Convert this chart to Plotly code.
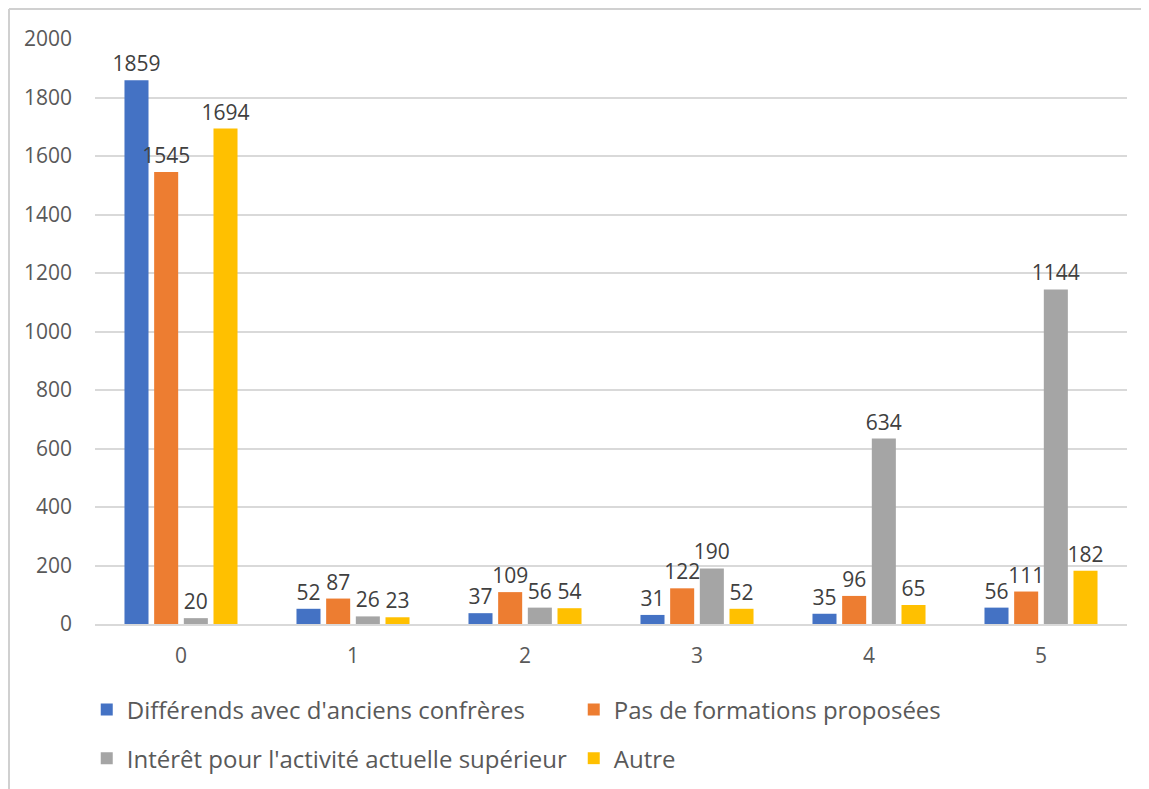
import plotly.graph_objects as go

categories = ["0", "1", "2", "3", "4", "5"]
series_names = [
    "Différends avec d'anciens confrères",
    "Pas de formations proposées",
    "Intérêt pour l'activité actuelle supérieur",
    "Autre",
]
differends = [1859, 52, 37, 31, 35, 56]
pas_formations = [1545, 87, 109, 122, 96, 111]
interet = [20, 26, 56, 190, 634, 1144]
autre = [1694, 23, 54, 52, 65, 182]
y_ticks = [0, 200, 400, 600, 800, 1000, 1200, 1400, 1600, 1800, 2000]

colors = ["#4472C4", "#ED7D31", "#A5A5A5", "#FFC000"]
legend_ids = ["legend", "legend", "legend2", "legend2"]
font_family = "Open Sans, Liberation Sans, sans-serif"

fig = go.Figure()
all_values = [differends, pas_formations, interet, autre]
for name, values, color, leg in zip(series_names, all_values, colors, legend_ids):
    fig.add_trace(go.Bar(
        x=categories,
        y=values,
        name=name,
        legend=leg,
        marker=dict(color=color, line=dict(width=0)),
        text=[str(v) for v in values],
        textposition="outside",
        constraintext="none",
        textfont=dict(size=21, color="#404040", family=font_family),
        cliponaxis=False,
    ))

# cadre du graphique : seuls les bords haut et gauche sont visibles
left_x = (1 - 87) / 1032
top_y = (616 - 1) / 585
fig.add_shape(type="line", xref="paper", yref="paper",
              x0=left_x, x1=1.2, y0=top_y, y1=top_y,
              line=dict(color="#D0D0D0", width=2))
fig.add_shape(type="line", xref="paper", yref="paper",
              x0=left_x, x1=left_x, y0=top_y, y1=-0.4,
              line=dict(color="#D0D0D0", width=2))

legend_style = dict(
    orientation="h",
    x=-0.008,
    xanchor="left",
    yanchor="middle",
    entrywidth=442,
    itemwidth=30,
    font=dict(size=24, color="#595959", family=font_family),
)

fig.update_layout(
    width=1149,
    height=789,
    margin=dict(l=87, r=30, t=31, b=173),
    paper_bgcolor="white",
    plot_bgcolor="white",
    barmode="group",
    bargap=0.31,
    bargroupgap=0.19,
    font=dict(family=font_family, size=21, color="#595959"),
    showlegend=True,
    legend=dict(legend_style, y=-0.147),
    legend2=dict(legend_style, y=-0.23),
    xaxis=dict(
        showgrid=False,
        showline=True,
        linecolor="#D9D9D9",
        linewidth=2,
        ticks="",
        ticklabelstandoff=12,
    ),
    yaxis=dict(
        range=[0, 2000],
        tickvals=y_ticks,
        showgrid=True,
        gridcolor="#D9D9D9",
        gridwidth=2,
        zeroline=False,
        showline=False,
        ticks="",
        ticklabelstandoff=22,
    ),
)

fig.write_html("out.html")
